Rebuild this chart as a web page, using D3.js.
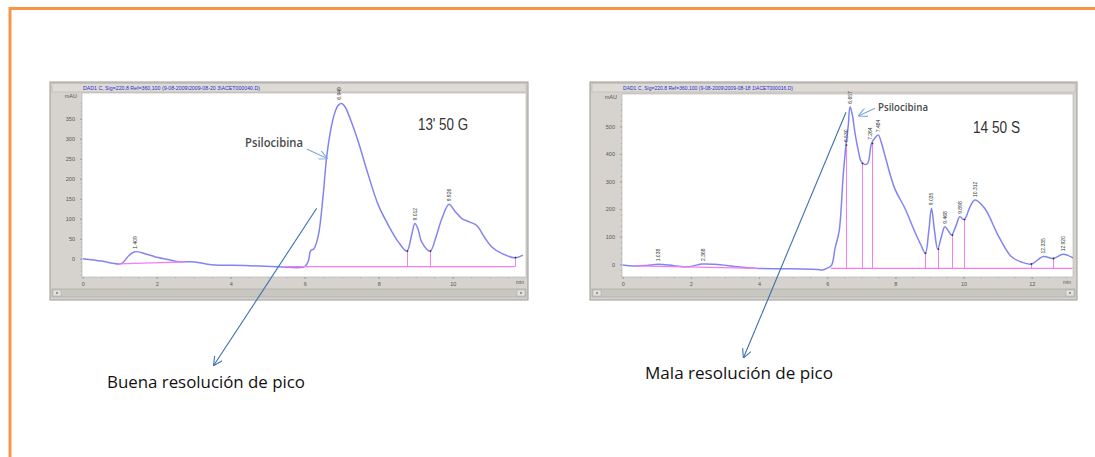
<!DOCTYPE html>
<html>
    <head>
        <title>Psilocibina - resolución de pico</title>
        <meta charset="utf-8" />
        <script src="https://d3js.org/d3.v7.min.js"></script>
        <style>
            body { margin: 0; background: #fff; }
            svg { display: block; }
        </style>
    </head>
    <body>
        <svg width="1095" height="457"></svg>
        <script>
            const leftTime = [0, 0.51, 0.96, 1.07, 1.25, 1.41, 1.7, 1.95, 2.3, 2.58, 3.03, 3.48, 4.38, 5.3, 6.0, 6.1, 6.16, 6.25, 6.37, 6.5, 6.59, 6.72, 6.82, 6.91, 7.0, 7.09, 7.25, 7.45, 7.72, 7.99, 8.26, 8.53, 8.76, 8.88, 8.98, 9.07, 9.16, 9.39, 9.55, 9.71, 9.9, 10.05, 10.24, 10.45, 10.65, 10.85, 11.05, 11.35, 11.68, 11.9]
            const leftSignal = [0, -6, -13, -11, 8, 17.5, 12, 5, -2, -7.5, -8, -15, -17, -20, -20, -5, 20, 25, 59, 160, 251, 330, 367, 384, 388, 380, 345, 292, 209, 134, 84, 42, 19, 55, 88, 72, 42, 19, 55, 101, 136, 120, 101, 92, 83, 55, 30, 12, 2.5, 9]
            const leftPeakTimes = [1.41, 6.92, 8.98, 9.9]
            const leftPeakValues = [17.5, 390, 88, 136]
            const leftPeakLabels = ['1.409', '6.949', '9.012', '9.926']
            const leftDropTimes = [8.76, 9.39, 11.68]
            const leftDropValues = [19, 19, 2.5]
            const leftBaseTimes = [[0.96, 2.8], [5.4, 11.68]]
            const leftBaseValues = [[-13, -8], [-20, -20]]
            const leftYTicks = [0, 50, 100, 150, 200, 250, 300, 350]
            const leftXTicks = [0, 2, 4, 6, 8, 10]

            // --- datos del cromatograma derecho (14 50 S)
            const rightTime = [0, 0.36, 0.7, 1.05, 1.5, 1.92, 2.32, 2.7, 3.39, 3.98, 4.76, 5.74, 5.86, 6.0, 6.13, 6.23, 6.35, 6.47, 6.55, 6.62, 6.67, 6.74, 6.81, 6.9, 7.0, 7.1, 7.19, 7.3, 7.4, 7.5, 7.59, 7.69, 7.98, 8.28, 8.57, 8.75, 8.88, 8.98, 9.06, 9.15, 9.24, 9.35, 9.45, 9.55, 9.65, 9.78, 9.89, 10.02, 10.18, 10.33, 10.62, 11.01, 11.4, 11.7, 11.99, 12.34, 12.63, 12.92, 13.2]
            const rightSignal = [-2.5, -6, -4, 0, -5, -9, 1, 0, -9, -15, -16, -19, -21, -14, -3, 58, 120, 323, 432, 505, 571, 540, 480, 420, 372, 362, 366, 438, 458, 468, 440, 396, 275, 203, 118, 70, 40, 120, 203, 120, 55, 100, 136, 122, 106, 140, 172, 162, 205, 233, 203, 106, 28, 8, 1, 28, 21, 36, 24]
            const rightPeakTimes = [1.05, 2.35, 6.55, 6.67, 7.27, 7.49, 9.06, 9.45, 9.89, 10.33, 12.34, 12.92]
            const rightPeakValues = [0, 1, 432, 571, 440, 468, 203, 136, 172, 233, 28, 36]
            const rightPeakLabels = ['1.038', '2.368', '6.530', '6.657', '7.264', '7.484', '9.035', '9.468', '9.898', '10.312', '12.335', '12.920']
            const rightDropTimes = [6.55, 7.03, 7.3, 8.88, 9.24, 9.65, 10.02, 11.99, 12.63, 13.2]
            const rightDropValues = [432, 366, 438, 40, 55, 106, 162, 1, 21, 24]
            const rightBaseTimes = [[0.36, 3.98], [6.1, 13.2]]
            const rightBaseValues = [[-6, -15], [-15, -15]]
            const rightYTicks = [0, 100, 200, 300, 400, 500]
            const rightXTicks = [0, 2, 4, 6, 8, 10, 12]

            const svg = d3.select('svg')

            // marco naranja de la diapositiva
            svg.append('path')
                .attr('d', 'M10,457 L10,8.5 L1095,8.5')
                .attr('fill', 'none')
                .attr('stroke', '#f79646')
                .attr('stroke-width', 3)

            const defs = svg.append('defs')
            function addMarker(id, color) {
                defs.append('marker')
                    .attr('id', id)
                    .attr('viewBox', '0 0 10 10')
                    .attr('refX', 9)
                    .attr('refY', 5)
                    .attr('markerWidth', 9)
                    .attr('markerHeight', 9)
                    .attr('markerUnits', 'userSpaceOnUse')
                    .attr('orient', 'auto')
                    .append('path')
                    .attr('d', 'M0,0 L10,5 L0,10')
                    .attr('fill', 'none')
                    .attr('stroke', color)
                    .attr('stroke-width', 1.2)
            }
            addMarker('arrowDark', '#3e6fb0')
            addMarker('arrowLight', '#7da7d8')

            function drawChromatogram(cfg) {
                const g = svg.append('g')
                const p = cfg.panel

                // ventana gris
                g.append('rect')
                    .attr('x', p.x).attr('y', p.y)
                    .attr('width', p.w).attr('height', p.h)
                    .attr('fill', '#d6d3ce')
                    .attr('stroke', '#9c9a96')
                    .attr('stroke-width', 1)
                g.append('rect')
                    .attr('x', p.x + 2).attr('y', p.y + 1.5)
                    .attr('width', p.w - 4).attr('height', 8.5)
                    .attr('fill', '#dedbd6')
                    .attr('stroke', '#b9b6b0')
                    .attr('stroke-width', 0.6)
                g.append('text')
                    .attr('x', p.x + 33).attr('y', p.y + 7.8)
                    .attr('font-family', 'Liberation Sans, Arial, sans-serif')
                    .attr('font-size', 5.5)
                    .attr('fill', '#2b2bd0')
                    .attr('textLength', cfg.titleWidth)
                    .attr('lengthAdjust', 'spacingAndGlyphs')
                    .text(cfg.title)

                // area de trazado
                g.append('rect')
                    .attr('x', cfg.plot.x0).attr('y', cfg.plot.y0)
                    .attr('width', cfg.plot.x1 - cfg.plot.x0)
                    .attr('height', cfg.plot.y1 - cfg.plot.y0)
                    .attr('fill', '#fff')
                    .attr('stroke', '#b0aea8')
                    .attr('stroke-width', 0.6)

                // barra de desplazamiento
                g.append('rect')
                    .attr('x', p.x + 2).attr('y', p.y + 207)
                    .attr('width', p.w - 4).attr('height', 8)
                    .attr('fill', '#c9c7c2')
                    .attr('stroke', '#a9a7a2')
                    .attr('stroke-width', 0.6)
                ;[p.x + 3, p.x + p.w - 11].forEach((bx) => {
                    g.append('rect')
                        .attr('x', bx).attr('y', p.y + 208)
                        .attr('width', 8).attr('height', 6)
                        .attr('fill', '#e4e2de')
                        .attr('stroke', '#a9a7a2')
                        .attr('stroke-width', 0.5)
                    g.append('circle')
                        .attr('cx', bx + 4).attr('cy', p.y + 211)
                        .attr('r', 0.8)
                        .attr('fill', '#333')
                })

                const x = d3.scaleLinear().domain([0, 12]).range(cfg.xRange)
                const y = d3.scaleLinear().domain(cfg.yDomain).range(cfg.yRange)

                // eje y
                const yAxis = g.append('g')
                    .attr('transform', `translate(${cfg.plot.x0},0)`)
                    .call(d3.axisLeft(y).tickValues(cfg.yTicks).tickSize(2).tickPadding(5))
                yAxis.select('.domain').remove()
                yAxis.selectAll('text')
                    .attr('font-family', 'Liberation Sans, Arial, sans-serif')
                    .attr('font-size', 5.5)
                    .attr('fill', '#555')
                yAxis.selectAll('line').attr('stroke', '#999')
                const yMinor = g.append('g')
                    .attr('transform', `translate(${cfg.plot.x0},0)`)
                    .call(d3.axisLeft(y).tickValues(d3.range(cfg.yMinor[0], cfg.yMinor[1], cfg.yMinor[2])).tickSize(1.2).tickFormat(''))
                yMinor.select('.domain').remove()
                yMinor.selectAll('line').attr('stroke', '#aaa')
                g.append('text')
                    .attr('x', cfg.plot.x0 - 5)
                    .attr('y', cfg.plot.y0 + 5)
                    .attr('text-anchor', 'end')
                    .attr('font-family', 'Liberation Sans, Arial, sans-serif')
                    .attr('font-size', 5.5)
                    .attr('fill', '#555')
                    .text('mAU')

                // eje x
                const xAxis = g.append('g')
                    .attr('transform', `translate(0,${cfg.plot.y1})`)
                    .call(d3.axisBottom(x).tickValues(cfg.xTicks).tickSize(2).tickPadding(3))
                xAxis.select('.domain').remove()
                xAxis.selectAll('text')
                    .attr('font-family', 'Liberation Sans, Arial, sans-serif')
                    .attr('font-size', 5.5)
                    .attr('fill', '#555')
                xAxis.selectAll('line').attr('stroke', '#999')
                const xMinor = g.append('g')
                    .attr('transform', `translate(0,${cfg.plot.y1})`)
                    .call(d3.axisBottom(x).tickValues(d3.range(0, cfg.xMax, 0.5)).tickSize(1.2).tickFormat(''))
                xMinor.select('.domain').remove()
                xMinor.selectAll('line').attr('stroke', '#aaa')
                g.append('text')
                    .attr('x', cfg.plot.x1 - 2)
                    .attr('y', cfg.plot.y1 + 7)
                    .attr('text-anchor', 'end')
                    .attr('font-family', 'Liberation Sans, Arial, sans-serif')
                    .attr('font-size', 5)
                    .attr('fill', '#555')
                    .text('min')

                const clipId = 'clip' + cfg.id
                defs.append('clipPath').attr('id', clipId)
                    .append('rect')
                    .attr('x', cfg.plot.x0).attr('y', cfg.plot.y0)
                    .attr('width', cfg.plot.x1 - cfg.plot.x0)
                    .attr('height', cfg.plot.y1 - cfg.plot.y0)
                const inner = g.append('g').attr('clip-path', `url(#${clipId})`)

                // senal
                const pts = cfg.time.map((t, i) => [t, cfg.signal[i]])
                const line = d3.line()
                    .x((d) => x(d[0]))
                    .y((d) => y(d[1]))
                    .curve(d3.curveCatmullRom.alpha(0.5))
                inner.append('path')
                    .datum(pts)
                    .attr('d', line)
                    .attr('fill', 'none')
                    .attr('stroke', '#8384f2')
                    .attr('stroke-width', 1.5)
                    .attr('stroke-linejoin', 'round')

                // lineas base e integracion
                cfg.baseTimes.forEach((seg, i) => {
                    inner.append('line')
                        .attr('x1', x(seg[0])).attr('x2', x(seg[1]))
                        .attr('y1', y(cfg.baseValues[i][0])).attr('y2', y(cfg.baseValues[i][1]))
                        .attr('stroke', '#f57df2')
                        .attr('stroke-width', 1.2)
                })
                const snap = (v) => Math.round(v) + 0.5
                inner.selectAll('line.drop')
                    .data(cfg.dropTimes)
                    .enter()
                    .append('line')
                    .attr('class', 'drop')
                    .attr('x1', (d) => snap(x(d))).attr('x2', (d) => snap(x(d)))
                    .attr('y1', (d, i) => y(cfg.dropValues[i]))
                    .attr('y2', y(cfg.baseValues[1][0]))
                    .attr('stroke', '#f57df2')
                    .attr('stroke-width', 1)

                // marcas de inicio/fin en la base
                inner.selectAll('circle.tick')
                    .data(cfg.dropTimes)
                    .enter()
                    .append('circle')
                    .attr('cx', (d) => snap(x(d)))
                    .attr('cy', (d, i) => y(cfg.dropValues[i]))
                    .attr('r', 0.9)
                    .attr('fill', '#333')

                // etiquetas de tiempo de retencion
                g.selectAll('text.peak')
                    .data(cfg.peakTimes)
                    .enter()
                    .append('text')
                    .attr('class', 'peak')
                    .attr('transform', (d, i) => `translate(${x(d) + 1.8},${Math.max(y(cfg.peakValues[i]) - 3, cfg.plot.y0 + 1)}) rotate(-90)`)
                    .attr('font-family', 'Liberation Sans, Arial, sans-serif')
                    .attr('font-size', 5)
                    .attr('fill', '#333')
                    .text((d, i) => cfg.peakLabels[i])

                return g
            }

            drawChromatogram({
                id: 'L',
                panel: { x: 50, y: 82, w: 478, h: 218 },
                title: 'DAD1 C, Sig=220,8 Ref=360,100 (9-08-2009\\2009-08-20 3\\ACET000040.D)',
                titleWidth: 177,
                plot: { x0: 82, x1: 526, y0: 93, y1: 277 },
                xRange: [82.7, 526.7],
                xMax: 12,
                yDomain: [0, 350],
                yRange: [258.7, 118.7],
                yMinor: [-40, 400, 10],
                yTicks: leftYTicks,
                xTicks: leftXTicks,
                time: leftTime,
                signal: leftSignal,
                peakTimes: leftPeakTimes,
                peakValues: leftPeakValues,
                peakLabels: leftPeakLabels,
                dropTimes: leftDropTimes,
                dropValues: leftDropValues,
                baseTimes: leftBaseTimes,
                baseValues: leftBaseValues,
            })

            drawChromatogram({
                id: 'R',
                panel: { x: 590, y: 82, w: 487, h: 218 },
                title: 'DAD1 C, Sig=220,8 Ref=360,100 (9-08-2009\\2009-08-18 1\\ACET000016.D)',
                titleWidth: 170,
                plot: { x0: 622, x1: 1073, y0: 94, y1: 277 },
                xRange: [622.7, 1031.7],
                xMax: 13.2,
                yDomain: [0, 500],
                yRange: [264.3, 126.3],
                yMinor: [-40, 600, 20],
                yTicks: rightYTicks,
                xTicks: rightXTicks,
                time: rightTime,
                signal: rightSignal,
                peakTimes: rightPeakTimes,
                peakValues: rightPeakValues,
                peakLabels: rightPeakLabels,
                dropTimes: rightDropTimes,
                dropValues: rightDropValues,
                baseTimes: rightBaseTimes,
                baseValues: rightBaseValues,
            })

            // anotaciones
            const notes = svg.append('g')
            function label(txt, x0, base, width, size, family, color, weight) {
                notes.append('text')
                    .attr('x', x0).attr('y', base)
                    .attr('font-family', family)
                    .attr('font-size', size)
                    .attr('font-weight', weight || 400)
                    .attr('fill', color)
                    .attr('textLength', width)
                    .attr('lengthAdjust', 'spacingAndGlyphs')
                    .text(txt)
            }
            label('Psilocibina', 245, 147, 58, 12.5, 'Open Sans, sans-serif', '#4a4a4a', 600)
            label('Psilocibina', 878, 111, 50, 11, 'Open Sans, sans-serif', '#4a4a4a', 600)
            label("13' 50 G", 418, 130, 50, 16, 'Liberation Sans, Arial, sans-serif', '#333')
            label('14 50 S', 973, 132.5, 47, 16, 'Liberation Sans, Arial, sans-serif', '#333')
            label('Buena resolución de pico', 107, 388, 198, 16, 'Open Sans, sans-serif', '#111')
            label('Mala resolución de pico', 645, 379, 188, 16, 'Open Sans, sans-serif', '#111')

            function arrow(x1, y1, x2, y2, color, marker) {
                notes.append('line')
                    .attr('x1', x1).attr('y1', y1)
                    .attr('x2', x2).attr('y2', y2)
                    .attr('stroke', color)
                    .attr('stroke-width', 1.1)
                    .attr('marker-end', `url(#${marker})`)
            }
            arrow(306.7, 149, 326.7, 158.3, '#7da7d8', 'arrowLight')
            arrow(875, 108.3, 859, 115.7, '#7da7d8', 'arrowLight')
            arrow(316.7, 208.3, 214, 365, '#3e6fb0', 'arrowDark')
            arrow(846, 112.3, 743.7, 357.3, '#3e6fb0', 'arrowDark')
        </script>
    </body>
</html>
